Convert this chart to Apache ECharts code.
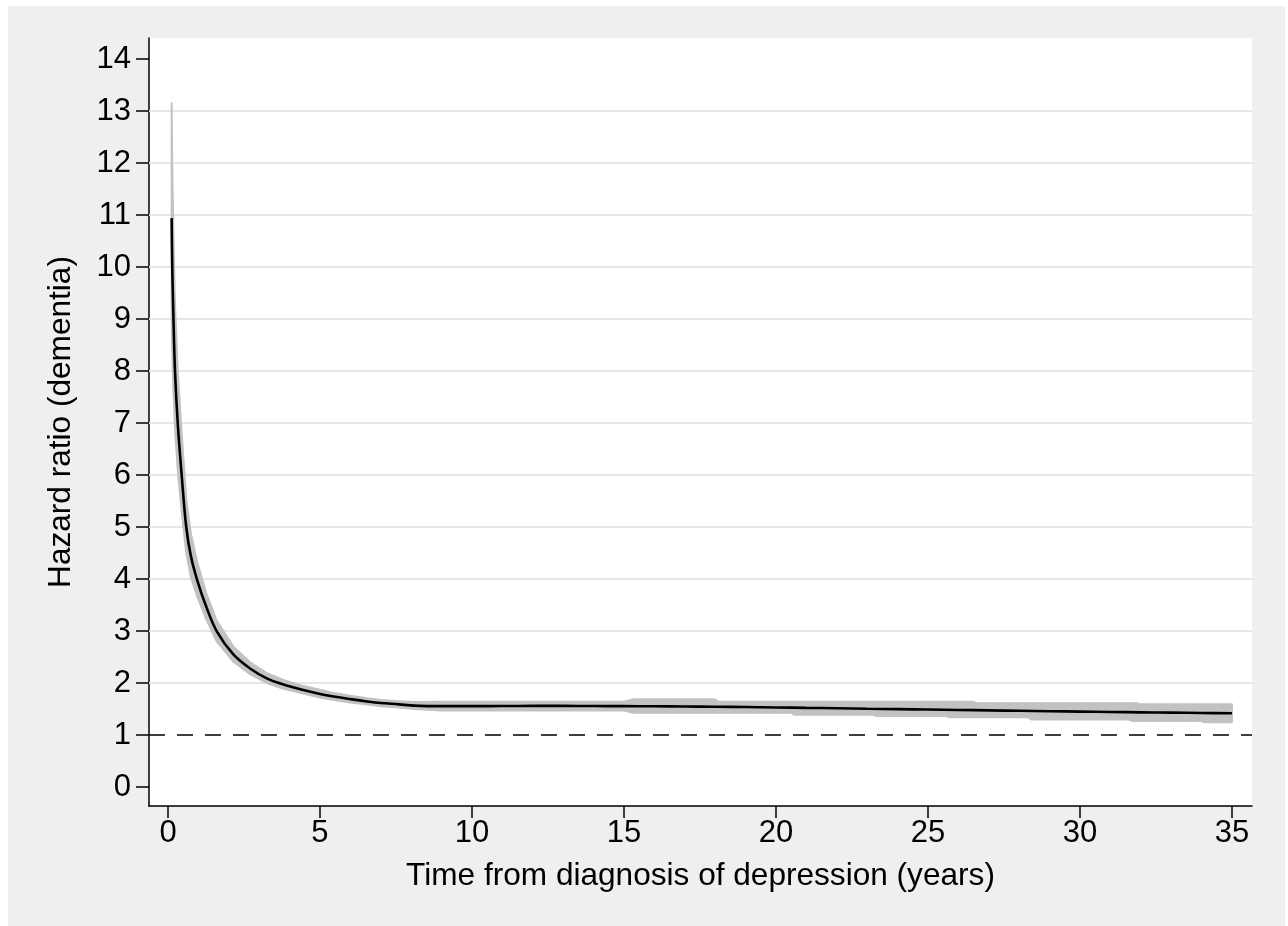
<!DOCTYPE html>
<html>
<head>
<meta charset="utf-8">
<script src="https://cdn.jsdelivr.net/npm/echarts@6/dist/echarts.min.js"></script>
<style>
  html, body { margin: 0; padding: 0; background: #ffffff; }
  #frame { position: absolute; left: 8px; top: 6px; width: 1277px; height: 920px; background: #efefef; }
  #chart { width: 1277px; height: 920px; }
</style>
</head>
<body>
<div id="frame"><div id="chart"></div></div>
<script>
// Hazard ratio curve (years since diagnosis, HR)
const hrTime = [0.12, 0.14, 0.18, 0.23, 0.32, 0.45, 0.6, 0.75, 0.95, 1.25, 1.6, 2.15, 2.7, 3.25, 3.8, 4.35, 5.0, 5.45, 6.0, 6.55, 7.0, 7.6, 8.1, 9, 10, 11, 12, 13, 14, 15, 16, 17, 18, 19, 20, 21, 22, 23, 24, 25, 26, 27, 28, 29, 30, 31, 32, 33, 34, 35];
const hrValue = [10.94, 10.0, 9.0, 8.0, 7.0, 6.0, 5.0, 4.45, 4.0, 3.48, 3.0, 2.55, 2.28, 2.09, 1.97, 1.88, 1.79, 1.74, 1.69, 1.645, 1.615, 1.59, 1.565, 1.555, 1.555, 1.557, 1.56, 1.56, 1.558, 1.555, 1.552, 1.548, 1.544, 1.538, 1.53, 1.522, 1.516, 1.505, 1.497, 1.49, 1.482, 1.474, 1.466, 1.458, 1.45, 1.443, 1.436, 1.43, 1.424, 1.418];

// 95% confidence band
const ciTime  = [0.12, 0.14, 0.18, 0.23, 0.32, 0.45, 0.6, 0.75, 0.95, 1.25, 1.6, 2.15, 2.7, 3.25, 3.8, 4.35, 5.0, 5.45, 6.0, 6.55, 7.0, 7.6, 8.1, 9.0, 15.0, 15.3, 18.0, 18.1, 20.5, 20.6, 23.2, 23.3, 25.6, 25.7, 26.5, 26.6, 28.3, 28.4, 31.6, 31.7, 31.9, 32.0, 34.0, 34.1, 35.0];
const ciLower = [9.1, 8.4, 7.6, 6.9, 6.1, 5.3, 4.5, 4.05, 3.68, 3.24, 2.8, 2.41, 2.17, 2.0, 1.89, 1.81, 1.72, 1.675, 1.625, 1.585, 1.555, 1.53, 1.5, 1.47, 1.47, 1.43, 1.43, 1.43, 1.43, 1.39, 1.39, 1.365, 1.365, 1.34, 1.34, 1.34, 1.34, 1.30, 1.30, 1.27, 1.27, 1.27, 1.27, 1.245, 1.245];
const ciUpper = [13.15, 11.9, 10.6, 9.3, 8.0, 6.8, 5.55, 4.88, 4.35, 3.74, 3.2, 2.7, 2.4, 2.19, 2.06, 1.96, 1.87, 1.81, 1.755, 1.705, 1.675, 1.65, 1.635, 1.64, 1.64, 1.686, 1.686, 1.64, 1.64, 1.64, 1.64, 1.64, 1.64, 1.64, 1.64, 1.61, 1.61, 1.61, 1.61, 1.61, 1.61, 1.59, 1.59, 1.59, 1.59];

const xTicks = [0, 5, 10, 15, 20, 25, 30, 35];
const yTicks = [0, 1, 2, 3, 4, 5, 6, 7, 8, 9, 10, 11, 12, 13, 14];
const gridValues = [2, 3, 4, 5, 6, 7, 8, 9, 10, 11, 12, 13];
const referenceHR = 1;

const xTitle = 'Time from diagnosis of depression (years)';
const yTitle = 'Hazard ratio (dementia)';

const FONT = '"Liberation Sans", Arial, Helvetica, sans-serif';

const bandData = ciTime.map((t, i) => [t, ciLower[i], ciUpper[i]]);
const hrData = hrTime.map((t, i) => [t, hrValue[i]]);

const chart = echarts.init(document.getElementById('chart'), null, { renderer: 'canvas' });
chart.setOption({
  animation: false,
  backgroundColor: 'transparent',
  grid: { left: 141, right: 33, top: 32, bottom: 120, show: true, backgroundColor: '#ffffff', borderWidth: 0 },
  xAxis: {
    type: 'value', min: -0.625, max: 35.66,
    name: xTitle, nameLocation: 'middle', nameGap: 54,
    nameTextStyle: { fontFamily: FONT, fontSize: 31.6, color: '#000' },
    axisLine: { show: true, onZero: false, lineStyle: { color: '#000', width: 1.5 } },
    axisTick: { show: true, inside: false, length: 12, lineStyle: { color: '#000', width: 1.5 }, customValues: xTicks },
    axisLabel: { fontFamily: FONT, fontSize: 31, color: '#000', margin: 12, customValues: xTicks },
    splitLine: { show: false }
  },
  yAxis: {
    type: 'value', min: -0.365, max: 14.404,
    name: yTitle, nameLocation: 'middle', nameGap: 72, nameRotate: 90,
    nameTextStyle: { fontFamily: FONT, fontSize: 31.6, color: '#000' },
    axisLine: { show: true, onZero: false, lineStyle: { color: '#000', width: 1.5 } },
    axisTick: { show: true, inside: false, length: 13, lineStyle: { color: '#000', width: 1.5 }, customValues: yTicks },
    axisLabel: { fontFamily: FONT, fontSize: 31, color: '#000', margin: 18, customValues: yTicks },
    splitLine: { show: false }
  },
  series: [
    {
      name: 'CI', type: 'custom', data: bandData, z: 2, silent: true,
      encode: { x: 0, y: [1, 2] },
      renderItem: function (params, api) {
        if (params.dataIndex !== 0) return null;
        const upperPts = bandData.map(d => api.coord([d[0], d[2]]));
        const lowerPts = bandData.map(d => api.coord([d[0], d[1]])).reverse();
        return {
          type: 'polygon',
          shape: { points: upperPts.concat(lowerPts), smooth: 0 },
          style: { fill: '#c2c2c2', stroke: '#c2c2c2', lineWidth: 2, lineJoin: 'round' }
        };
      },
      markLine: {
        silent: true, symbol: 'none', z: 1, label: { show: false },
        lineStyle: { color: '#e6e6e6', width: 2, type: 'solid' },
        data: gridValues.map(v => ({ yAxis: v }))
      }
    },
    {
      name: 'HR', type: 'line', data: hrData, smooth: 0.35,
      symbol: 'none', z: 4, silent: true,
      lineStyle: { width: 2.6, color: '#000' },
      markLine: {
        silent: true, symbol: 'none', z: 3, label: { show: false },
        lineStyle: { color: '#000', width: 1.6, type: [16, 12] },
        data: [{ yAxis: referenceHR }]
      }
    }
  ]
});
</script>
</body>
</html>
